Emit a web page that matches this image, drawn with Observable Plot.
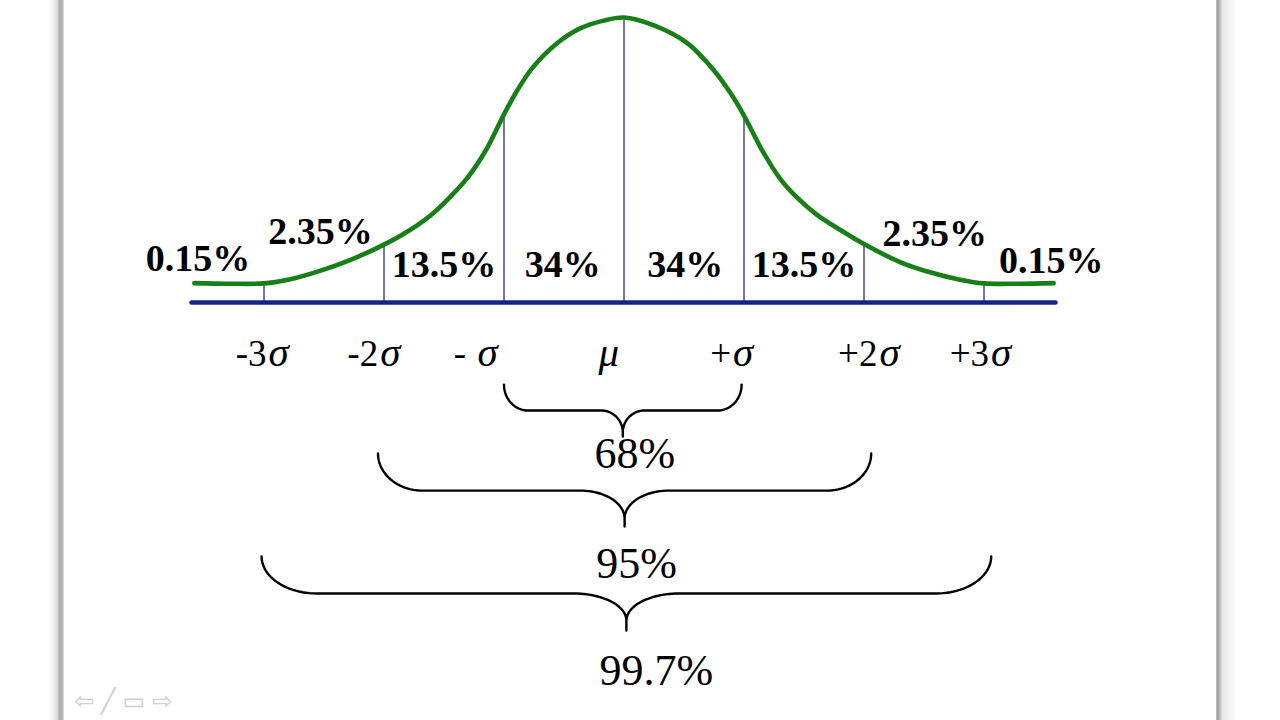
<!DOCTYPE html>
<html>
<head>
<meta charset="utf-8">
<script src="https://cdn.jsdelivr.net/npm/d3@7"></script>
<script src="https://cdn.jsdelivr.net/npm/@observablehq/plot@0.6"></script>
<style>
  html, body { margin: 0; padding: 0; }
  body {
    width: 1280px; height: 720px; overflow: hidden; position: relative;
    background: linear-gradient(to right,
      #ffffff 0px, #ffffff 48px, #f3f3f3 52px, #dcdcdc 57px, #a9a9a9 60px, #b4b4b4 62px, #d6d6d6 63.5px, #ffffff 64.5px,
      #ffffff 1215.5px, #b8b8b8 1216.5px, #a2a2a2 1218px, #bdbdbd 1220px, #e6e6e6 1222px, #f5f5f5 1230px, #ffffff 1238px);
  }
  #chart { position: absolute; left: 0; top: 0; }
  #nav { position: absolute; left: 74px; top: 686px; font-family: 'DejaVu Sans', sans-serif; font-size: 24px; line-height: 30px; color: #cfcfcf; letter-spacing: 7px; }
</style>
</head>
<body>
<div id="chart"></div>
<div id="nav">⇦╱▭⇨</div>
<script>
// ---- data ----
// curve: x in sigma units, y = height relative to the peak (peak = 100)
const curveX = [-3.58, -3.3, -3.0, -2.8, -2.58, -2.3, -2.0, -1.8, -1.6, -1.45, -1.3, -1.15, -1.0, -0.89, -0.76, -0.56, -0.37, -0.17, 0,
                 0.25, 0.53, 0.75, 0.89, 1.0, 1.15, 1.3, 1.45, 1.6, 1.8, 2.0, 2.3, 2.55, 2.8, 3.0, 3.3, 3.58];
const curveY = [6.8, 6.6, 6.7, 8.0, 10.5, 14.6, 20.3, 25.0, 31.0, 37.0, 44.0, 53.5, 66.0, 74.4, 82.5, 90.9, 96.1, 98.9, 100,
                97.2, 90.9, 81.4, 73.3, 65.6, 53.5, 43.5, 36.5, 31.0, 25.5, 20.5, 14.2, 10.6, 8.0, 6.7, 6.6, 6.8];
const sigmaTicks = [-3, -2, -1, 0, 1, 2, 3];
const tickPrefix = ["-3", "-2", "-\u00a0", "", "+", "+2", "+3"];
const tickSymbol = ["σ", "σ", "σ", "μ", "σ", "σ", "σ"];
const bandLabels = ["0.15%", "2.35%", "13.5%", "34%", "34%", "13.5%", "2.35%", "0.15%"];
const braceFrom = [-1.0, -2.05, -3.02];
const braceTo = [0.98, 2.06, 3.06];
const braceLabels = ["68%", "95%", "99.7%"];

// ---- layout (annotation placement, in data units) ----
const bandLabelX = [-3.55, -2.53, -1.50, -0.51, 0.51, 1.50, 2.59, 3.56];
const bandLabelY = [11.2, 20.7, 8.8, 8.8, 8.8, 8.8, 20.0, 10.5];
const tickSplitX = [-2.97, -2.04, -1.23, -0.22, 0.90, 2.12, 3.05];
const tickY = -22.3;
// brace geometry: top of ends, horizontal, start of tip stub, tip, corner radius, middle radius
const braceGeom = [
  {top: -28.8, h: -37.9, tc: -45.6, tip: -47.0, r1: 0.20, r2: 0.18, labelX: 0.10, labelY: -58.2},
  {top: -53.0, h: -66.0, tc: -75.8, tip: -78.6, r1: 0.37, r2: 0.37, labelX: 0.10, labelY: -96.6},
  {top: -89.1, h: -102.1, tc: -111.6, tip: -115.1, r1: 0.46, r2: 0.44, labelX: 0.25, labelY: -134.2}
];

const curve = curveX.map((x, i) => ({x, y: curveY[i]}));
const heightAt = (s) => curveY[curveX.indexOf(s)];
const rules = sigmaTicks.map(s => ({x: s, y1: 0, y2: heightAt(s)}));
const bands = bandLabels.map((t, i) => ({t, x: bandLabelX[i], y: bandLabelY[i]}));
const ticks = sigmaTicks.map((s, i) => ({p: tickPrefix[i], s: tickSymbol[i], x: tickSplitX[i], y: tickY}));

// build brace outlines from span + geometry
function bracePoints(lo, hi, g, id) {
  const pts = [];
  const mid = (lo + hi) / 2;
  const n = 24;
  for (let k = 0; k <= n; k++) {
    const t = (k / n) * Math.PI / 2;
    pts.push({x: lo + g.r1 - g.r1 * Math.cos(t), y: g.top + (g.h - g.top) * Math.sin(t)});
  }
  for (let k = 0; k <= n; k++) {
    const t = (k / n) * Math.PI / 2;
    pts.push({x: mid - g.r2 + g.r2 * Math.sin(t), y: g.tc - (g.tc - g.h) * Math.cos(t)});
  }
  pts.push({x: mid, y: g.tip});
  pts.push({x: mid, y: g.tc});
  for (let k = n; k >= 0; k--) {
    const t = (k / n) * Math.PI / 2;
    pts.push({x: mid + g.r2 - g.r2 * Math.sin(t), y: g.tc - (g.tc - g.h) * Math.cos(t)});
  }
  for (let k = n; k >= 0; k--) {
    const t = (k / n) * Math.PI / 2;
    pts.push({x: hi - g.r1 + g.r1 * Math.cos(t), y: g.top + (g.h - g.top) * Math.sin(t)});
  }
  return pts.map(p => ({...p, id}));
}
const braces = braceFrom.flatMap((lo, i) => bracePoints(lo, braceTo[i], braceGeom[i], i));
const braceText = braceLabels.map((t, i) => ({t, x: (braceFrom[i] + braceTo[i]) / 2 + braceGeom[i].labelX, y: braceGeom[i].labelY}));

const serif = "'Liberation Serif', 'Times New Roman', Times, serif";

const chart = Plot.plot({
  width: 1280,
  height: 720,
  marginLeft: 191.5,
  marginRight: 224.5,
  marginTop: 17,
  marginBottom: 418,
  style: {background: "transparent", overflow: "visible"},
  x: {domain: [-3.6, 3.6], axis: null},
  y: {domain: [0, 100], axis: null},
  marks: [
    Plot.ruleX(rules, {x: "x", y1: "y1", y2: "y2", stroke: "#2d2d86", strokeWidth: 1.3}),
    Plot.line(curve, {x: "x", y: "y", stroke: "#167f16", strokeWidth: 4.6, curve: "catmull-rom", strokeLinecap: "round"}),
    Plot.ruleY([{y: 0, x1: -3.6, x2: 3.6}], {y: "y", x1: "x1", x2: "x2", stroke: "#13238a", strokeWidth: 4.5, strokeLinecap: "round"}),
    Plot.text(bands, {x: "x", y: "y", text: "t", fontFamily: serif, fontWeight: "bold", fontSize: 38, fill: "black", textAnchor: "middle", lineAnchor: "bottom"}),
    Plot.text(ticks, {x: "x", y: "y", text: "p", fontFamily: serif, fontSize: 37, fill: "black", textAnchor: "end", lineAnchor: "bottom", dx: -1}),
    Plot.text(ticks, {x: "x", y: "y", text: "s", fontFamily: serif, fontStyle: "italic", fontSize: 41, fill: "black", textAnchor: "start", lineAnchor: "bottom", dx: 1}),
    Plot.line(braces, {x: "x", y: "y", z: "id", stroke: "black", strokeWidth: 2.4, strokeLinejoin: "round"}),
    Plot.text(braceText, {x: "x", y: "y", text: "t", fontFamily: serif, fontSize: 44, fill: "black", textAnchor: "middle", lineAnchor: "bottom"})
  ]
});
document.getElementById("chart").appendChild(chart);
</script>
</body>
</html>
